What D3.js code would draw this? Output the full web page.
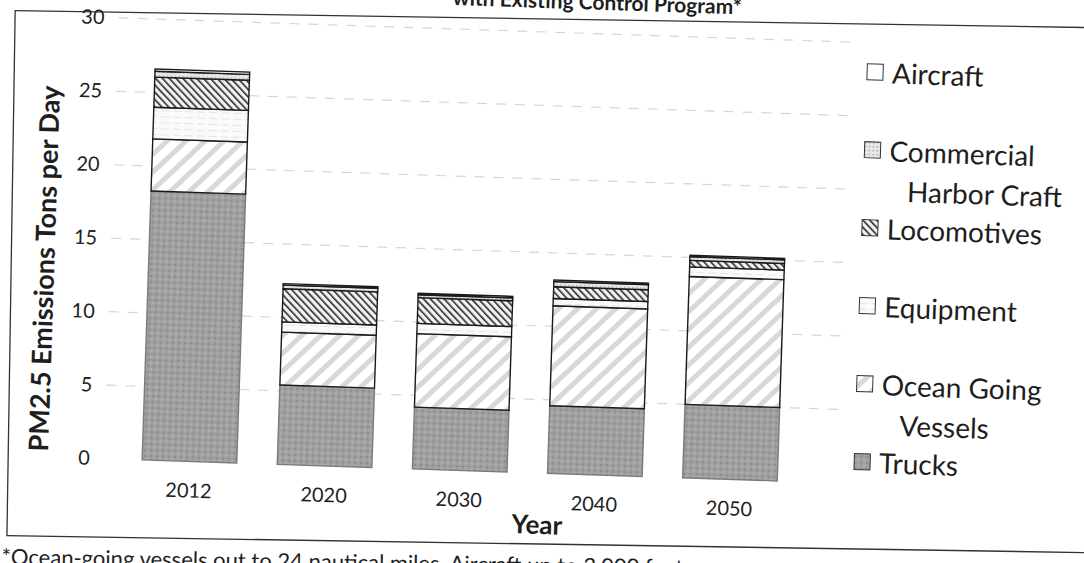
<!DOCTYPE html>
<html>
<head>
<meta charset="utf-8">
<script src="https://cdn.jsdelivr.net/npm/d3@7"></script>
<style>
  html, body { margin: 0; padding: 0; background: #fff; }
  svg { display: block; }
  text { font-family: Lato, "Open Sans", sans-serif; fill: #1e1e1e; }
</style>
</head>
<body>
<svg id="chart" width="1084" height="563"></svg>
<script>
// Port-related PM2.5 emissions by source, tons per day
const years = ["2012", "2020", "2030", "2040", "2050"];
const sourceKeys = ["trucks", "ogv", "equipment", "locomotives", "harborCraft", "aircraft"];
const legendLabels = {
  aircraft: ["Aircraft"],
  harborCraft: ["Commercial", "Harbor Craft"],
  locomotives: ["Locomotives"],
  equipment: ["Equipment"],
  ogv: ["Ocean Going", "Vessels"],
  trucks: ["Trucks"]
};
const trucks      = [18.3, 5.4, 4.2, 4.6, 5.0];
const ogv         = [3.55, 3.6, 5.0, 6.8, 8.7];
const equipment   = [2.15, 0.7, 0.7, 0.5, 0.65];
const locomotives = [2.05, 2.25, 1.75, 0.8, 0.45];
const harborCraft = [0.4, 0.25, 0.2, 0.35, 0.25];
const aircraft    = [0.15, 0.1, 0.1, 0.1, 0.1];
const yTicks = [0, 5, 10, 15, 20, 25, 30];

const seriesValues = { trucks, ogv, equipment, locomotives, harborCraft, aircraft };
const rows = years.map((y, i) => {
  const r = { year: y };
  sourceKeys.forEach(k => r[k] = seriesValues[k][i]);
  return r;
});

const svg = d3.select("#chart");
const defs = svg.append("defs");

// fill patterns for each source
function stripes(id, bg, color, width, gap, angle) {
  const p = defs.append("pattern").attr("id", id)
    .attr("patternUnits", "userSpaceOnUse").attr("width", gap).attr("height", gap)
    .attr("patternTransform", `rotate(${angle})`);
  p.append("rect").attr("width", gap).attr("height", gap).attr("fill", bg);
  p.append("rect").attr("width", width).attr("height", gap).attr("fill", color);
}
// trucks: mottled grey
{
  const p = defs.append("pattern").attr("id", "pat-trucks")
    .attr("patternUnits", "userSpaceOnUse").attr("width", 6).attr("height", 6);
  p.append("rect").attr("width", 6).attr("height", 6).attr("fill", "#a0a0a0");
  p.append("rect").attr("x", 0).attr("y", 0).attr("width", 2).attr("height", 2).attr("fill", "#8a8a8a");
  p.append("rect").attr("x", 3).attr("y", 3).attr("width", 2).attr("height", 2).attr("fill", "#b2b2b2");
}
stripes("pat-ogv", "#ffffff", "#d8d8d8", 5, 13, 45);
stripes("pat-loco", "#f2f2f2", "#2a2a2a", 1.6, 5, -45);
{
  const p = defs.append("pattern").attr("id", "pat-equip")
    .attr("patternUnits", "userSpaceOnUse").attr("width", 12).attr("height", 6);
  p.append("rect").attr("width", 12).attr("height", 6).attr("fill", "#fafafa");
  p.append("rect").attr("y", 3).attr("width", 8).attr("height", 1).attr("fill", "#e4e4e4");
}
{
  const p = defs.append("pattern").attr("id", "pat-chc")
    .attr("patternUnits", "userSpaceOnUse").attr("width", 4).attr("height", 4);
  p.append("rect").attr("width", 4).attr("height", 4).attr("fill", "#e8e8e8");
  p.append("rect").attr("width", 1.5).attr("height", 1.5).attr("fill", "#a8a8a8");
}
const fills = {
  trucks: "url(#pat-trucks)",
  ogv: "url(#pat-ogv)",
  equipment: "url(#pat-equip)",
  locomotives: "url(#pat-loco)",
  harborCraft: "url(#pat-chc)",
  aircraft: "#ffffff"
};

// page border and footnote, tilted a little less than the chart itself
const page = svg.append("g").attr("transform", "rotate(0.9 542 281)");
page.append("rect").attr("x", 11).attr("y", 19).attr("width", 1090).attr("height", 525)
  .attr("fill", "none").attr("stroke", "#333").attr("stroke-width", 1.3);
page.append("text").attr("x", 6).attr("y", 573).attr("font-size", 22)
  .attr("font-family", "'Liberation Sans', Arial, sans-serif").attr("fill", "#333")
  .text("*Ocean-going vessels out to 24 nautical miles.  Aircraft up to 3,000 feet.");

// the chart sits slightly tilted on the page
const g = svg.append("g").attr("transform", "rotate(1.9 542 281)");

// title (second line)
g.append("text").attr("x", 588).attr("y", 8).attr("text-anchor", "middle")
  .attr("font-size", 21).attr("font-weight", "bold").text("with Existing Control Program*");

const y = d3.scaleLinear().domain([0, 30]).range([473, 32]);
const x = d3.scaleBand().domain(years).range([128, 804]).paddingInner(0.3).paddingOuter(0.15);

// gridlines
g.append("g").selectAll("line").data(yTicks.filter(t => t > 0)).join("line")
  .attr("x1", 110).attr("x2", 845)
  .attr("y1", d => y(d)).attr("y2", d => y(d))
  .attr("stroke", "#d6d6d6").attr("stroke-width", 1.2).attr("stroke-dasharray", "10 9");

// y axis
const yAxis = g.append("g").attr("transform", "translate(110,0)")
  .call(d3.axisLeft(y).tickValues(yTicks).tickSize(0).tickPadding(14));
yAxis.select(".domain").remove();
yAxis.selectAll("text").attr("font-size", 20).attr("font-family", "Lato, sans-serif").attr("fill", "#333");

// x axis
const xAxis = g.append("g").attr("transform", `translate(0,${y(0)})`)
  .call(d3.axisBottom(x).tickSize(0).tickPadding(22));
xAxis.select(".domain").remove();
xAxis.selectAll("text").attr("font-size", 20).attr("font-family", "Lato, sans-serif").attr("fill", "#333");

// axis titles
g.append("text").attr("transform", "translate(54,285) rotate(-90)")
  .attr("text-anchor", "middle").attr("font-size", 27).attr("font-weight", "bold")
  .text("PM2.5 Emissions Tons per Day");
g.append("text").attr("x", 545).attr("y", 534).attr("text-anchor", "middle")
  .attr("font-size", 26).attr("font-weight", "bold").text("Year");

// stacked bars
const stacked = d3.stack().keys(sourceKeys)(rows);
g.append("g").selectAll("g").data(stacked).join("g")
  .attr("fill", d => fills[d.key])
  .attr("stroke", d => d.key === "trucks" ? "#7a7a7a" : "#1a1a1a")
  .attr("stroke-width", 1.4)
  .selectAll("rect").data(d => d).join("rect")
  .attr("x", d => x(d.data.year))
  .attr("width", x.bandwidth())
  .attr("y", d => y(d[1]))
  .attr("height", d => y(d[0]) - y(d[1]));

// legend
const legendOrder = sourceKeys.slice().reverse();
const legend = g.append("g").attr("transform", "translate(860,61)");
const item = legend.selectAll("g").data(legendOrder).join("g")
  .attr("transform", (d, i) => `translate(0,${i * 78})`);
item.append("rect").attr("x", 0).attr("y", -8).attr("width", 16).attr("height", 16)
  .attr("fill", d => fills[d]).attr("stroke", "#333").attr("stroke-width", 1);
item.each(function(d) {
  const t = d3.select(this).append("text").attr("x", 25).attr("y", 0)
    .attr("font-size", 28).attr("dominant-baseline", "central");
  legendLabels[d].forEach((line, j) => {
    t.append("tspan").attr("x", j === 0 ? 25 : 44).attr("dy", j === 0 ? 0 : 40).text(line);
  });
});
</script>
</body>
</html>
